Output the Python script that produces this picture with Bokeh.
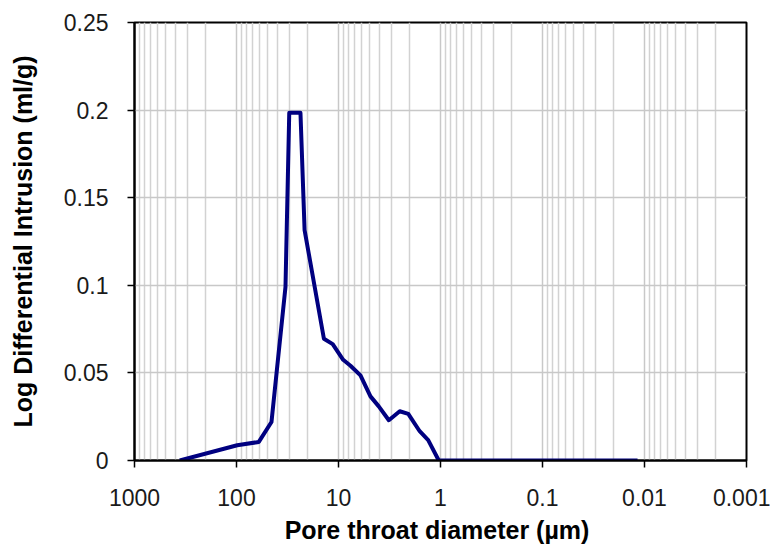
from bokeh.plotting import figure
from bokeh.models import Range1d, FixedTicker, ColumnDataSource
from bokeh.embed import file_html
from bokeh.resources import INLINE

# Data
diameter_um = [360, 98.4, 60.4, 45.4, 33.1, 30.4, 23.6, 21.5, 13.9, 11.4, 9.0, 7.63,
               6.09, 4.86, 4.03, 3.21, 2.51, 2.07, 1.60, 1.32, 1.04, 0.5, 0.1, 0.03, 0.0117]
log_diff_intrusion = [0.0, 0.0087, 0.0106, 0.022, 0.099, 0.1985, 0.1985, 0.1315, 0.0695,
                      0.0664, 0.0575, 0.0541, 0.0486, 0.0366, 0.0309, 0.0230, 0.0281,
                      0.0266, 0.0167, 0.0116, 0.0, 0.0, 0.0, 0.0, 0.0]

x_ticks = [1000, 100, 10, 1, 0.1, 0.01, 0.001]
x_tick_labels = ["1000", "100", "10", "1", "0.1", "0.01", "0.001"]
y_ticks = [0, 0.05, 0.1, 0.15, 0.2, 0.25]
y_tick_labels = ["0", "0.05", "0.1", "0.15", "0.2", "0.25"]

x_minor = []
for d in x_ticks[1:]:
    for m in range(2, 10):
        x_minor.append(d * m)

FONT = "Liberation Sans"

p = figure(x_axis_type="log", x_range=Range1d(1000, 0.001), y_range=Range1d(0, 0.25),
           frame_width=612, frame_height=438,
           min_border_left=134, min_border_top=22, min_border_right=24, min_border_bottom=86,
           output_backend="svg", toolbar_location=None, background_fill_color="white",
           border_fill_color="white")

p.outline_line_color = "black"
p.outline_line_width = 2

xt = FixedTicker(ticks=x_ticks, minor_ticks=x_minor)
p.xaxis.ticker = xt
p.xgrid.ticker = xt
p.yaxis.ticker = FixedTicker(ticks=y_ticks)
p.ygrid.ticker = FixedTicker(ticks=y_ticks)

p.xaxis.major_label_overrides = {t: l for t, l in zip(x_ticks, x_tick_labels)}
p.yaxis.major_label_overrides = {t: l for t, l in zip(y_ticks, y_tick_labels)}

for ax in (p.xaxis, p.yaxis):
    ax.axis_line_color = "black"
    ax.axis_line_width = 2
    ax.major_tick_line_color = "black"
    ax.major_tick_line_width = 1.5
    ax.major_tick_out = 7
    ax.major_tick_in = 0
    ax.minor_tick_line_color = None
    ax.major_label_text_font = FONT
    ax.major_label_text_font_size = "23px"
    ax.major_label_text_color = "#1a1a1a"
    ax.axis_label_text_font = FONT
    ax.axis_label_text_font_size = "25px"
    ax.axis_label_text_font_style = "bold"
    ax.axis_label_text_color = "black"

p.xaxis.axis_label = "Pore throat diameter  (µm)"
p.yaxis.axis_label = "Log Differential Intrusion (ml/g)"
p.xaxis.major_label_standoff = 21
p.xaxis.axis_label_standoff = 7
p.yaxis.major_label_standoff = 19
p.yaxis.axis_label_standoff = 24

p.xgrid.grid_line_color = "#c8c8c8"
p.xgrid.grid_line_width = 1.5
p.xgrid.minor_grid_line_color = "#d2d2d2"
p.xgrid.minor_grid_line_width = 1.5
p.ygrid.grid_line_color = "#c8c8c8"
p.ygrid.grid_line_width = 1.5

src = ColumnDataSource(dict(x=diameter_um, y=log_diff_intrusion))
p.line("x", "y", source=src, line_color="#000080", line_width=4, line_join="round")

open("out.html", "w").write(file_html(p, INLINE))
